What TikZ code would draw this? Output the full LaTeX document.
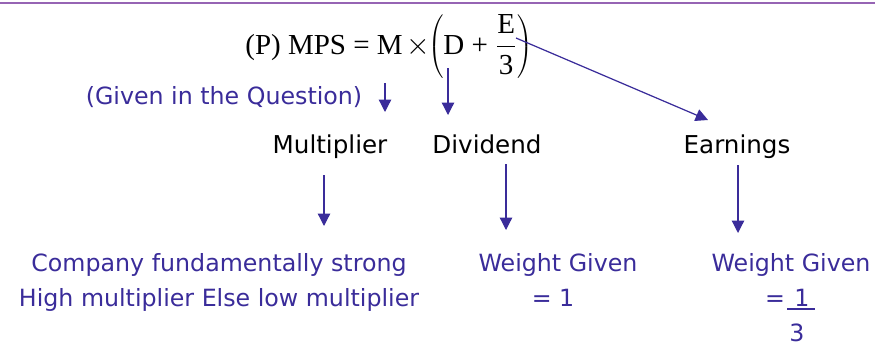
\documentclass[tikz,border=0pt]{standalone}
\usepackage{fontspec}
\setmainfont{Liberation Serif}
\newfontfamily\handfont{DejaVu Sans}
\usetikzlibrary{arrows.meta}
\definecolor{inkblue}{RGB}{58,44,154}
\definecolor{rulepurple}{RGB}{150,100,180}

\begin{document}
\begin{tikzpicture}[x=0.02cm, y=-0.02cm,
		arr/.style={draw=inkblue, line width=0.7pt, -{Triangle[width=7pt,length=7pt]}},
		term/.style={font=\handfont\fontsize{14}{16}\selectfont, text=black, anchor=base},
		note/.style={font=\handfont\fontsize{13.5}{16}\selectfont, text=inkblue, anchor=base}]
		\useasboundingbox (0,0) rectangle (875,345);
		\draw[rulepurple, line width=1.2pt] (0,3) -- (875,3);

		% price formula
		\node[anchor=base west, inner sep=0pt] (mps) at (245,54) {\fontsize{16.5}{18}\selectfont
			(P) MPS = M\kern2pt$\times$\kern-1pt$\displaystyle\left(\textrm{D + }\frac{\textrm{E}}{\textrm{3}}\right)$};
		\node[note] (given) at (224,104) {(Given in the Question)};
		\coordinate (mtop) at (385,83);
		\coordinate (mend) at (385,112);
		\coordinate (dtop) at (448,68);
		\coordinate (dend) at (448,115);
		\coordinate (etop) at (516,38);
		\coordinate (eend) at (708,120);
		\draw[arr] (mtop) -- (mend);
		\draw[arr] (dtop) -- (dend);
		\draw[arr] (etop) -- (eend);

		% the three parts
		\node[term] (multi) at (330,153) {Multiplier};
		\node[term] (divi) at (487,153) {Dividend};
		\node[term] (earn) at (737,153) {Earnings};
		\coordinate (mlow) at (324,175);
		\coordinate (mwt) at (324,226);
		\coordinate (dlow) at (506,164);
		\coordinate (dwt) at (506,230);
		\coordinate (elow) at (738,165);
		\coordinate (ewt) at (738,233);
		\draw[arr] (mlow) -- (mwt);
		\draw[arr] (dlow) -- (dwt);
		\draw[arr] (elow) -- (ewt);

		% what each part means
		\node[note] (strong) at (219,271) {Company fundamentally strong};
		\node[note] (high) at (219,306) {High multiplier Else low multiplier};
		\node[note] (dweight) at (558,271) {Weight Given};
		\node[note] (done) at (553,306) {= 1};
		\node[note] (eweight) at (791,271) {Weight Given};
		\node[note] (eeq) at (775,306) {=};
		\node[note] (enum) at (802,306) {1};
		\draw[inkblue, line width=1pt] (787,309) -- (815,309);
		\node[note] (eden) at (797,341) {3};

	\end{tikzpicture}
\end{document}
